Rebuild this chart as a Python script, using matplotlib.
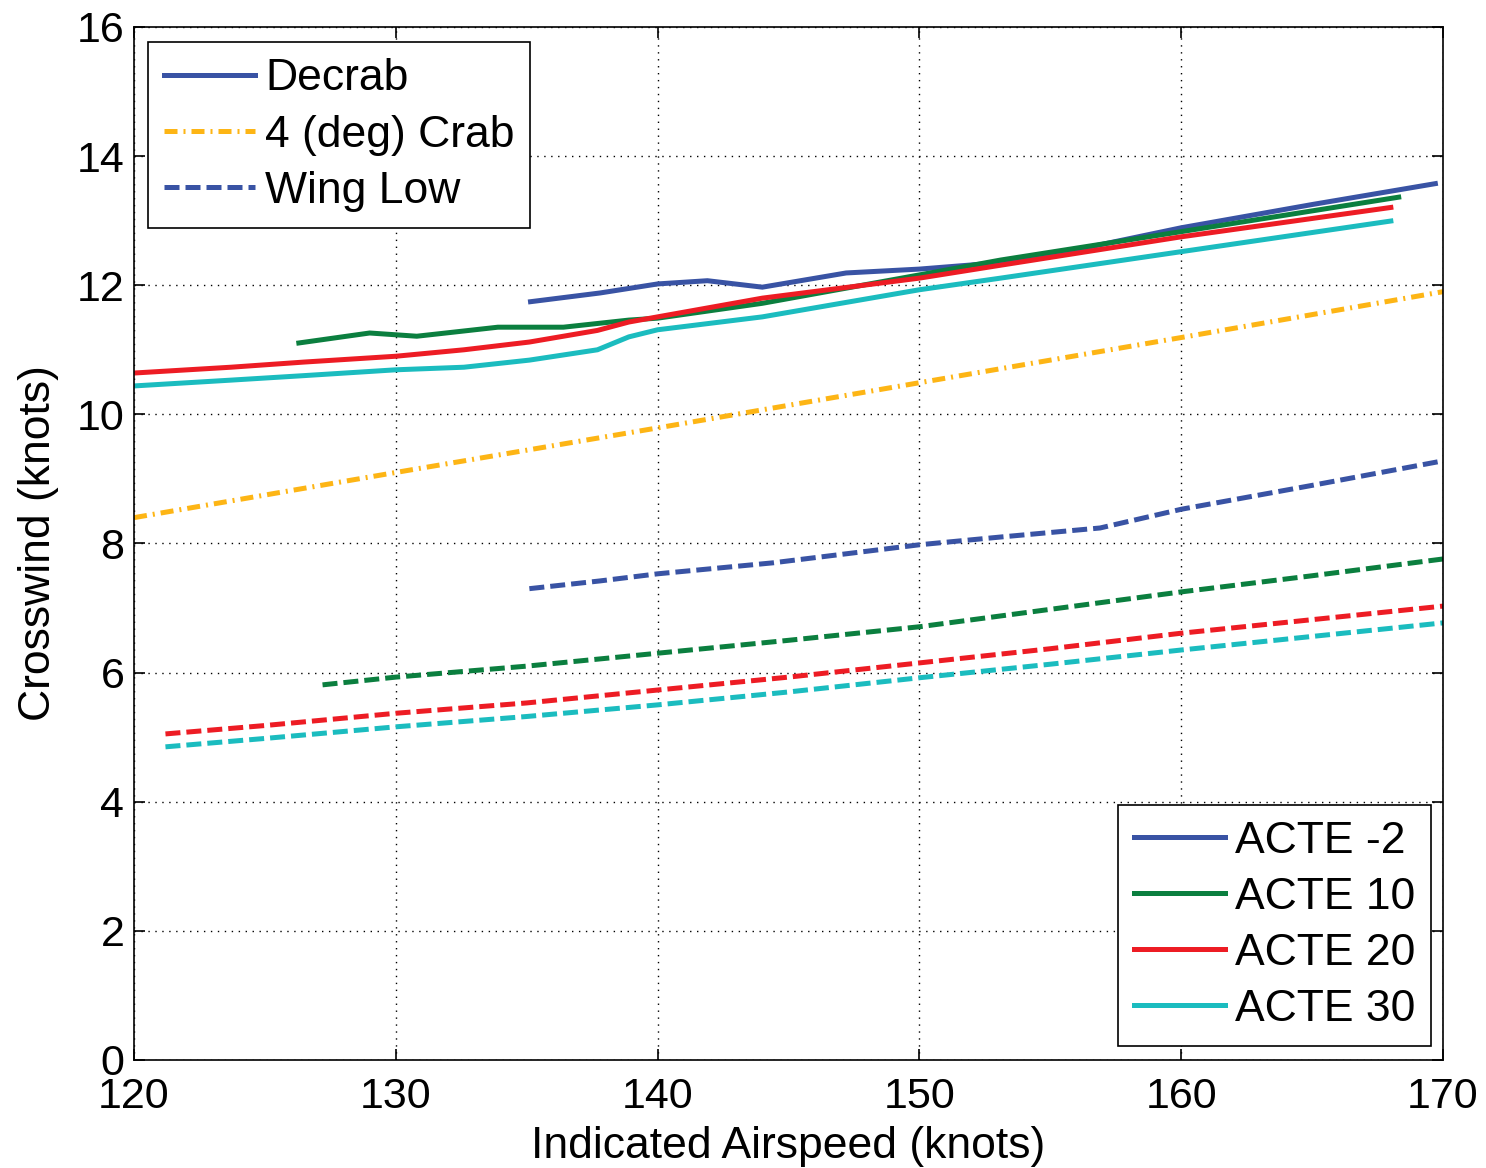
import matplotlib
matplotlib.use("Agg")
import matplotlib.pyplot as plt
from matplotlib.lines import Line2D

plt.rcParams['font.family'] = ['Liberation Sans', 'DejaVu Sans']

# Decrab (solid) crosswind limits per configuration
dec_m2_x = [135.05, 137.8, 140.0, 141.9, 144.0, 147.2, 150.0, 153.1, 156.0, 160.0, 165.0, 169.8]
dec_m2_y = [11.74, 11.88, 12.02, 12.07, 11.97, 12.19, 12.25, 12.35, 12.55, 12.89, 13.25, 13.58]

dec_10_x = [126.2, 129.0, 130.8, 133.9, 136.4, 138.9, 140.0, 144.0, 150.0, 153.1, 160.0, 168.4]
dec_10_y = [11.10, 11.26, 11.21, 11.35, 11.35, 11.46, 11.49, 11.72, 12.16, 12.39, 12.83, 13.37]

dec_20_x = [120.0, 123.7, 126.5, 130.0, 132.6, 135.1, 137.7, 138.9, 140.0, 144.0, 150.0, 153.1, 160.0, 168.1]
dec_20_y = [10.64, 10.73, 10.81, 10.90, 11.00, 11.12, 11.30, 11.43, 11.51, 11.80, 12.11, 12.31, 12.75, 13.21]

dec_30_x = [120.0, 123.7, 126.5, 130.0, 132.6, 135.1, 137.7, 138.9, 140.0, 144.0, 150.0, 153.1, 160.0, 168.1]
dec_30_y = [10.44, 10.53, 10.60, 10.69, 10.73, 10.84, 11.00, 11.20, 11.31, 11.51, 11.93, 12.11, 12.52, 13.00]

# 4 (deg) Crab limit
crab_x = [120.0, 130.0, 140.0, 150.0, 160.0, 170.0]
crab_y = [8.40, 9.10, 9.79, 10.49, 11.19, 11.90]

# Wing Low (dashed) crosswind limits per configuration
wl_m2_x = [135.1, 137.8, 140.0, 144.4, 150.0, 153.1, 156.9, 160.0, 165.0, 170.0]
wl_m2_y = [7.30, 7.42, 7.53, 7.70, 7.98, 8.10, 8.24, 8.53, 8.90, 9.28]

wl_10_x = [127.2, 130.0, 135.0, 140.0, 145.0, 150.0, 155.0, 160.0, 165.0, 170.0]
wl_10_y = [5.81, 5.93, 6.10, 6.30, 6.50, 6.71, 6.98, 7.25, 7.50, 7.76]

wl_20_x = [121.2, 125.0, 130.0, 135.0, 140.0, 145.0, 150.0, 155.0, 160.0, 165.0, 170.0]
wl_20_y = [5.05, 5.18, 5.37, 5.53, 5.73, 5.93, 6.15, 6.37, 6.61, 6.82, 7.03]

wl_30_x = [121.2, 125.0, 130.0, 135.0, 140.0, 145.0, 150.0, 155.0, 160.0, 165.0, 170.0]
wl_30_y = [4.85, 4.98, 5.16, 5.32, 5.50, 5.70, 5.92, 6.13, 6.35, 6.56, 6.77]

config_labels = ['ACTE -2', 'ACTE 10', 'ACTE 20', 'ACTE 30']
method_labels = ['Decrab', '4 (deg) Crab', 'Wing Low']
xticks = [120, 130, 140, 150, 160, 170]
yticks = [0, 2, 4, 6, 8, 10, 12, 14, 16]

c_blue = '#3953a4'
c_green = '#0b7f3f'
c_red = '#ed1c24'
c_cyan = '#1bbcbf'
c_orange = '#fdb515'
colors = [c_blue, c_green, c_red, c_cyan]

fig = plt.figure(figsize=(14.86, 11.68), dpi=100)
ax = fig.add_axes([0.0902, 0.0925, 0.8809, 0.8844])

lw = 3.6
dash = (3.0, 1.2)
crab_dash = (2.6, 1.2, 0.4, 1.2)
crab_lw = 3.6
fs = 32

for (x, y), c in zip([(dec_m2_x, dec_m2_y), (dec_10_x, dec_10_y),
                      (dec_20_x, dec_20_y), (dec_30_x, dec_30_y)], colors):
    ax.plot(x, y, color=c, lw=lw, solid_capstyle='butt', solid_joinstyle='miter')

ax.plot(crab_x, crab_y, color=c_orange, lw=crab_lw, dashes=crab_dash)

for (x, y), c in zip([(wl_m2_x, wl_m2_y), (wl_10_x, wl_10_y),
                      (wl_20_x, wl_20_y), (wl_30_x, wl_30_y)], colors):
    ax.plot(x, y, color=c, lw=lw, dashes=dash)

ax.set_xlim(120, 170)
ax.set_ylim(0, 16)
ax.set_xticks(xticks)
ax.set_yticks(yticks)
ax.tick_params(direction='in', length=8, width=1.2, top=True, right=True,
               labelsize=31, colors='black')
ax.tick_params(axis='x', pad=12)
ax.tick_params(axis='y', pad=7)
ax.grid(True, color='black', linestyle=(0, (1, 4)), linewidth=1.0)
for s in ax.spines.values():
    s.set_linewidth(1.2)

ax.set_xlabel('Indicated Airspeed (knots)', fontsize=fs, labelpad=7)
ax.set_ylabel('Crosswind (knots)', fontsize=fs, labelpad=13)

method_handles = [
    Line2D([], [], color=c_blue, lw=lw),
    Line2D([], [], color=c_orange, lw=crab_lw, dashes=crab_dash),
    Line2D([], [], color=c_blue, lw=lw, dashes=dash),
]
leg_kw = dict(fontsize=fs, frameon=True, fancybox=False, edgecolor='black',
              framealpha=1, handlelength=2.05, handletextpad=0.22,
              labelspacing=0.34, borderpad=0.36, borderaxespad=0)
leg1 = ax.legend(method_handles, method_labels, loc='upper left',
                 bbox_to_anchor=(0.0107, 0.985), **leg_kw)
leg1.get_frame().set_linewidth(1.2)
ax.add_artist(leg1)

config_handles = [Line2D([], [], color=c, lw=lw) for c in colors]
leg2 = ax.legend(config_handles, config_labels, loc='lower right',
                 bbox_to_anchor=(0.991, 0.0135), **leg_kw)
leg2.get_frame().set_linewidth(1.2)

fig.savefig('out.png', dpi=100, facecolor='white')
